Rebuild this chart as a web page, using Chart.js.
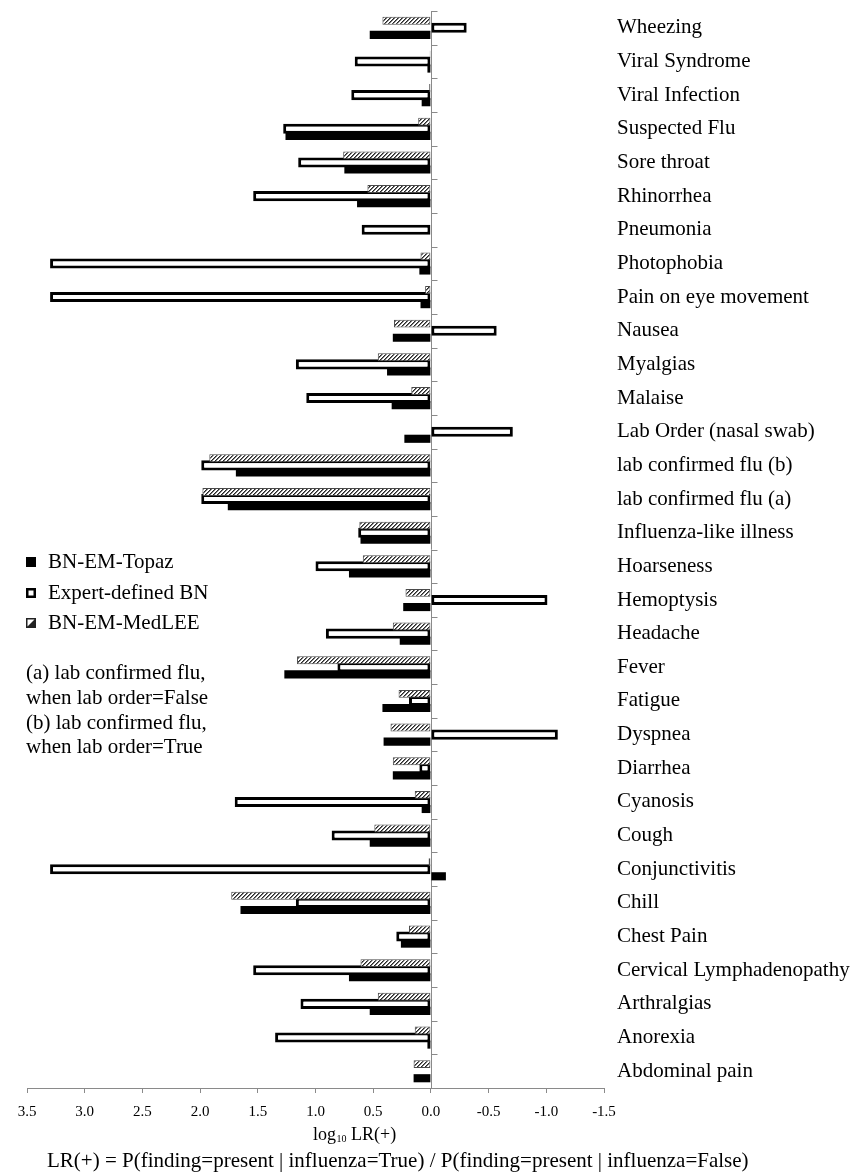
<!DOCTYPE html>
<html>
<head>
<meta charset="utf-8">
<script src="https://cdn.jsdelivr.net/npm/chart.js@4.4.1/dist/chart.umd.min.js"></script>
<style>
  html, body { margin: 0; padding: 0; background: #fff; }
  #wrap { width: 862px; height: 1174px; }
</style>
</head>
<body>
<div id="wrap"><canvas id="c" width="862" height="1174"></canvas></div>
<script>
// Findings, listed top to bottom
const categories = [
  'Wheezing', 'Viral Syndrome', 'Viral Infection', 'Suspected Flu', 'Sore throat',
  'Rhinorrhea', 'Pneumonia', 'Photophobia', 'Pain on eye movement', 'Nausea',
  'Myalgias', 'Malaise', 'Lab Order (nasal swab)', 'lab confirmed flu (b)',
  'lab confirmed flu (a)', 'Influenza-like illness', 'Hoarseness', 'Hemoptysis',
  'Headache', 'Fever', 'Fatigue', 'Dyspnea', 'Diarrhea', 'Cyanosis', 'Cough',
  'Conjunctivitis', 'Chill', 'Chest Pain', 'Cervical Lymphadenopathy',
  'Arthralgias', 'Anorexia', 'Abdominal pain'
];

// log10 LR(+) per finding
const topaz = [
  0.53, 0.03, 0.08, 1.26, 0.75, 0.64, 0.00, 0.10, 0.09, 0.33,
  0.38, 0.34, 0.23, 1.69, 1.76, 0.61, 0.71, 0.24, 0.27, 1.27,
  0.42, 0.41, 0.33, 0.08, 0.53, -0.13, 1.65, 0.26, 0.71, 0.53,
  0.03, 0.15
];
const expertBN = [
  -0.31, 0.66, 0.69, 1.28, 1.15, 1.54, 0.60, 3.30, 3.30, -0.57,
  1.17, 1.08, -0.71, 1.99, 1.99, 0.63, 1.00, -1.01, 0.91, 0.81,
  0.19, -1.10, 0.10, 1.70, 0.86, 3.30, 1.17, 0.30, 1.54, 1.13,
  1.35, 0.00
];
const medlee = [
  0.42, 0.01, 0.015, 0.11, 0.76, 0.55, 0.005, 0.09, 0.05, 0.32,
  0.46, 0.17, 0.005, 1.92, 1.98, 0.62, 0.59, 0.22, 0.33, 1.16,
  0.28, 0.35, 0.33, 0.14, 0.49, 0.02, 1.73, 0.19, 0.61, 0.46,
  0.14, 0.15
];

const xTickValues = [3.5, 3.0, 2.5, 2.0, 1.5, 1.0, 0.5, 0.0, -0.5, -1.0, -1.5];
const legendLabels = ['BN-EM-Topaz', 'Expert-defined BN', 'BN-EM-MedLEE'];
const notes = [
  '(a) lab confirmed flu,', 'when lab order=False',
  '(b) lab confirmed flu,', 'when lab order=True'
];
const axisTitle = ['log', '10', ' LR(+)'];
const formulaText = 'LR(+) = P(finding=present | influenza=True) / P(finding=present | influenza=False)';

const SERIF = "'Liberation Serif', 'Times New Roman', serif";
const AXIS_GREY = '#8a8a8a';

// Diagonal hatch used for the MedLEE series
function makeHatch() {
  const t = document.createElement('canvas');
  t.width = 4; t.height = 4;
  const g = t.getContext('2d');
  g.fillStyle = '#ffffff';
  g.fillRect(0, 0, 4, 4);
  g.fillStyle = '#7a7a7a';
  for (let i = 0; i < 4; i++) g.fillRect((4 - i) % 4, i, 1, 1);
  g.fillStyle = '#262626';
  for (let i = 0; i < 4; i++) g.fillRect(3 - i, i, 1, 1);
  return document.getElementById('c').getContext('2d').createPattern(t, 'repeat');
}
const hatch = makeHatch();

// Zero line with small category ticks pointing right
const zeroAxis = {
  id: 'zeroAxis',
  beforeDatasetsDraw(chart) {
    const { ctx, chartArea: a, scales: { x, y } } = chart;
    const x0 = Math.round(x.getPixelForValue(0)) + 0.5;
    ctx.save();
    ctx.strokeStyle = AXIS_GREY;
    ctx.lineWidth = 1;
    ctx.beginPath();
    ctx.moveTo(x0, a.top);
    ctx.lineTo(x0, a.bottom);
    for (let i = 0; i <= categories.length; i++) {
      const yy = Math.round(y.getPixelForValue(i - 0.5)) + 0.5;
      ctx.moveTo(x0, yy);
      ctx.lineTo(x0 + 6, yy);
    }
    ctx.stroke();
    ctx.restore();
  }
};

// Legend, footnotes and the two axis captions
const annotations = {
  id: 'annotations',
  afterDraw(chart) {
    const ctx = chart.ctx;
    ctx.save();
    ctx.fillStyle = '#000';
    ctx.textBaseline = 'alphabetic';
    ctx.textAlign = 'left';

    // legend
    const baselines = [568, 599, 629];
    ctx.font = '21px ' + SERIF;
    legendLabels.forEach((lab, i) => {
      const by = baselines[i];
      const bx = 26, s = 10, top = by - 11;
      if (i === 0) {
        ctx.fillStyle = '#000';
        ctx.fillRect(bx, top, s, s);
      } else if (i === 1) {
        ctx.fillStyle = '#fff';
        ctx.fillRect(bx, top, s, s);
        ctx.strokeStyle = '#000';
        ctx.lineWidth = 2.5;
        ctx.strokeRect(bx + 1.25, top + 1.25, s - 2.5, s - 2.5);
      } else {
        ctx.fillStyle = '#fff';
        ctx.fillRect(bx, top, s, s);
        ctx.fillStyle = '#222';
        ctx.beginPath();
        ctx.moveTo(bx + s, top);
        ctx.lineTo(bx + s, top + s);
        ctx.lineTo(bx, top + s);
        ctx.closePath();
        ctx.fill();
        ctx.strokeStyle = '#222';
        ctx.lineWidth = 1.5;
        ctx.strokeRect(bx + 0.75, top + 0.75, s - 1.5, s - 1.5);
      }
      ctx.fillStyle = '#000';
      ctx.fillText(lab, 48, by);
    });

    // footnotes
    const noteBase = [679, 704, 729, 753];
    notes.forEach((t, i) => ctx.fillText(t, 26, noteBase[i]));

    // x axis title with subscript
    let tx = 313;
    const ty = 1140;
    ctx.font = '18px ' + SERIF;
    ctx.fillText(axisTitle[0], tx, ty);
    tx += ctx.measureText(axisTitle[0]).width + 0.5;
    ctx.font = '10px ' + SERIF;
    ctx.fillText(axisTitle[1], tx, ty + 2);
    tx += ctx.measureText(axisTitle[1]).width;
    ctx.font = '18px ' + SERIF;
    ctx.fillText(axisTitle[2], tx, ty);

    // definition line
    ctx.font = '21px ' + SERIF;
    ctx.fillText(formulaText, 47, 1167);
    ctx.restore();
  }
};

Chart.defaults.font.family = SERIF;
Chart.defaults.color = '#000';

new Chart(document.getElementById('c'), {
  type: 'bar',
  data: {
    labels: categories,
    datasets: [
      {
        label: legendLabels[2], data: medlee,
        backgroundColor: hatch, borderColor: '#4a4a4a', borderWidth: 1,
        borderSkipped: false, barPercentage: 1.12, categoryPercentage: 0.63
      },
      {
        label: legendLabels[1], data: expertBN,
        backgroundColor: '#ffffff', borderColor: '#000000', borderWidth: 3,
        borderSkipped: false, barPercentage: 1.42, categoryPercentage: 0.63
      },
      {
        label: legendLabels[0], data: topaz,
        backgroundColor: '#000000', borderWidth: 0,
        barPercentage: 1.15, categoryPercentage: 0.63
      }
    ]
  },
  options: {
    indexAxis: 'y',
    responsive: false,
    animation: false,
    devicePixelRatio: 1,
    layout: { padding: { left: 27, top: 11, right: 0, bottom: 0 } },
    plugins: {
      legend: { display: false },
      tooltip: { enabled: false },
      title: { display: false }
    },
    scales: {
      x: {
        type: 'linear',
        position: 'bottom',
        reverse: true,
        min: -1.5,
        max: 3.5,
        afterBuildTicks: s => { s.ticks = xTickValues.map(v => ({ value: v })); },
        afterFit: s => { s.height = 86; s.paddingLeft = 0; s.paddingRight = 0; },
        grid: {
          display: true, drawOnChartArea: false, drawTicks: true,
          tickLength: 5, color: AXIS_GREY, lineWidth: 1
        },
        border: { display: true, color: AXIS_GREY, width: 1 },
        ticks: {
          padding: 10,
          maxRotation: 0,
          autoSkip: false,
          font: { size: 15, family: SERIF },
          color: '#000',
          callback: v => Number(v).toFixed(1)
        }
      },
      y: {
        type: 'category',
        position: 'right',
        offset: true,
        afterFit: s => { s.width = 258; s.paddingTop = 0; s.paddingBottom = 0; },
        grid: { display: false, drawTicks: false },
        border: { display: false },
        ticks: {
          padding: 13,
          autoSkip: false,
          font: { size: 21, family: SERIF },
          color: '#000'
        }
      }
    }
  },
  plugins: [zeroAxis, annotations]
});
</script>
</body>
</html>
